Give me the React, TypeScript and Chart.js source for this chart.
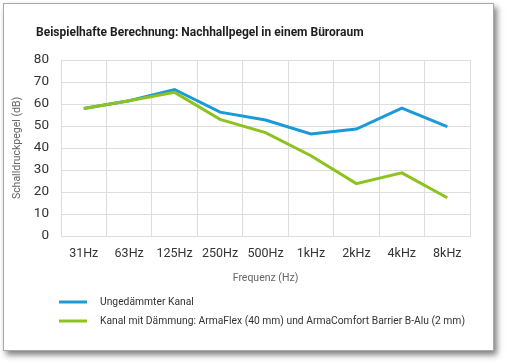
import React, { useEffect, useRef } from "react";
import { Chart, registerables } from "chart.js";

Chart.register(...registerables);

const categories = ["31Hz", "63Hz", "125Hz", "250Hz", "500Hz", "1kHz", "2kHz", "4kHz", "8kHz"];
const ungedaemmt = [58, 61.5, 66.6, 56.3, 52.7, 46.4, 48.6, 58.1, 49.7];
const gedaemmt = [58, 61.5, 65.3, 53.0, 47.0, 36.5, 23.8, 28.7, 17.4];
const seriesNames = [
  "Ungedämmter Kanal",
  "Kanal mit Dämmung: ArmaFlex (40 mm) und ArmaComfort Barrier B-Alu (2 mm)",
];
const titleText = "Beispielhafte Berechnung: Nachhallpegel in einem Büroraum";
const yTitle = "Schalldruckpegel (dB)";
const xTitle = "Frequenz (Hz)";

const FONT = "Roboto, 'DejaVu Sans', sans-serif";
const W = 489;
const H = 346;

const customPlugin = {
  id: "customTitleLegend",
  afterDraw(chart: any) {
    const ctx = chart.ctx as CanvasRenderingContext2D;
    ctx.save();
    ctx.fillStyle = "#1e1e1e";
    ctx.font = `bold 12px ${FONT}`;
    ctx.textBaseline = "middle";
    ctx.textAlign = "left";
    ctx.fillText(titleText, 32, 29);

    const ys = [298, 317];
    chart.data.datasets.forEach((ds: any, i: number) => {
      ctx.strokeStyle = ds.borderColor;
      ctx.lineWidth = 3;
      ctx.beginPath();
      ctx.moveTo(55, ys[i]);
      ctx.lineTo(83, ys[i]);
      ctx.stroke();
      ctx.fillStyle = "#333333";
      ctx.font = `10.3px ${FONT}`;
      ctx.fillText(ds.label, 96, ys[i]);
    });
    ctx.restore();
  },
};

export default function App() {
  const ref = useRef<HTMLCanvasElement>(null);
  useEffect(() => {
    if (!ref.current) return;
    const chart = new Chart(ref.current, {
      type: "line",
      data: {
        labels: categories,
        datasets: [
          {
            label: seriesNames[0],
            data: ungedaemmt,
            borderColor: "#1a9ad6",
            borderWidth: 3,
            pointRadius: 0,
            tension: 0,
            fill: false,
            order: 1,
          },
          {
            label: seriesNames[1],
            data: gedaemmt,
            borderColor: "#8dc21f",
            borderWidth: 3,
            pointRadius: 0,
            tension: 0,
            fill: false,
            order: 0,
          },
        ],
      },
      options: {
        responsive: false,
        animation: false,
        layout: { padding: { top: 56, right: 23, bottom: 65, left: 0 } },
        plugins: {
          legend: { display: false },
          title: { display: false },
          tooltip: { enabled: false },
        },
        scales: {
          x: {
            offset: true,
            grid: { offset: true, color: "#dddddd", drawTicks: false },
            border: { color: "#dddddd" },
            ticks: { color: "#333333", font: { family: FONT, size: 12.5 }, padding: 10, maxRotation: 0 },
            title: { display: true, text: xTitle, color: "#666666", font: { family: FONT, size: 10.5 }, padding: { top: 0, bottom: 0 } },
            afterFit: (s: any) => { s.height = 49; },
          },
          y: {
            min: 0,
            max: 80,
            ticks: { stepSize: 10, color: "#333333", font: { family: FONT, size: 13.5 }, padding: 12 },
            grid: { color: "#dddddd", drawTicks: false },
            border: { color: "#dddddd" },
            title: { display: true, text: yTitle, color: "#666666", font: { family: FONT, size: 10.5 }, padding: { top: 7, bottom: 0 } },
            afterFit: (s: any) => { s.width = 57; },
          },
        },
      },
      plugins: [customPlugin],
    });
    return () => chart.destroy();
  }, []);

  return (
    <div
      style={{
        position: "absolute",
        left: 3,
        top: 3,
        width: W,
        height: H,
        border: "1px solid #a8a8a8",
        background: "#ffffff",
        boxShadow: "3px 4px 6px rgba(0,0,0,0.5)",
      }}
    >
      <canvas ref={ref} width={W} height={H} style={{ display: "block" }} />
    </div>
  );
}
